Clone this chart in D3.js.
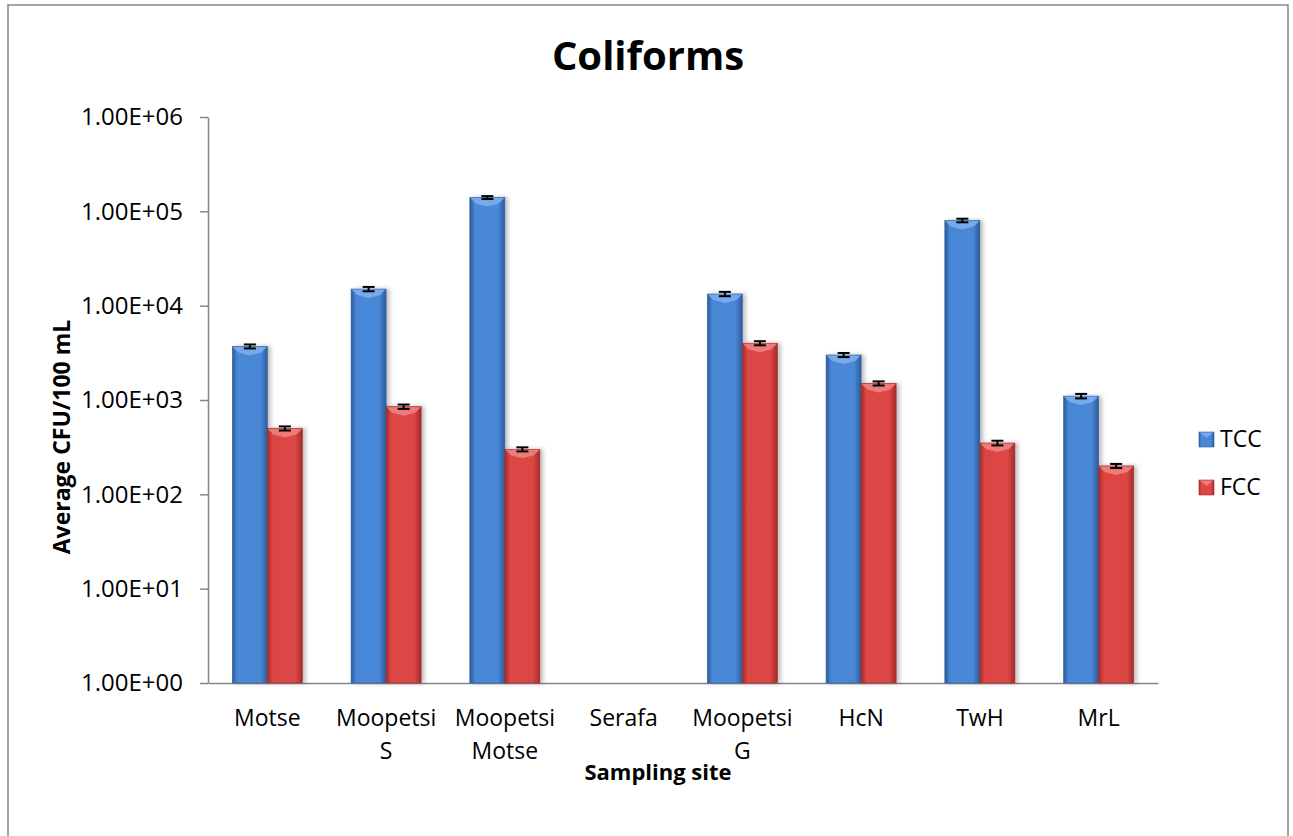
<!DOCTYPE html>
<html>
<head>
<meta charset="utf-8">
<script src="https://cdn.jsdelivr.net/npm/d3@7"></script>
<style>
  body { margin: 0; background: #fff; }
  svg { display: block; font-family: "Open Sans", sans-serif; }
  .axis path, .axis line { stroke: #868686; stroke-width: 1.5; }
  .axis text { fill: #000; font-size: 23px; font-family: "Open Sans", sans-serif; }
</style>
</head>
<body>
<svg id="chart" width="1293" height="836"></svg>
<script>
const sites = ["Motse", "Moopetsi S", "Moopetsi Motse", "Serafa", "Moopetsi G", "HcN", "TwH", "MrL"];
const seriesNames = ["TCC", "FCC"];
const tccValues = [3700, 15000, 140000, null, 13300, 3000, 80000, 1100];
const fccValues = [500, 850, 300, null, 4000, 1500, 350, 200];
const tccErrors = [180, 800, 5000, null, 700, 150, 3500, 60];
const fccErrors = [25, 45, 15, null, 200, 75, 20, 10];
const yTicks = [1, 10, 100, 1000, 10000, 100000, 1000000];

const margin = { left: 208, top: 117 };
const width = 1158 - margin.left;
const height = 683 - margin.top;

const colors = {
  TCC: { mid: "#4a88d6", edge: "#2c5b9c", top: "#7fb0ee" },
  FCC: { mid: "#dc4744", edge: "#a32b29", top: "#ef8683" }
};

const sciFormat = d => {
  const e = Math.round(Math.log10(d));
  const m = (d / Math.pow(10, e)).toFixed(2);
  return `${m}E+${String(e).padStart(2, "0")}`;
};

const rows = sites.map((site, i) => ({
  site,
  bars: [
    { key: "TCC", value: tccValues[i], err: tccErrors[i] },
    { key: "FCC", value: fccValues[i], err: fccErrors[i] }
  ]
}));

const svg = d3.select("#chart");
const defs = svg.append("defs");

seriesNames.forEach(name => {
  const grad = defs
    .append("linearGradient")
    .attr("id", `grad-${name}`)
    .attr("x1", "0%")
    .attr("x2", "100%");
  grad.append("stop").attr("offset", "0%").attr("stop-color", colors[name].edge);
  grad.append("stop").attr("offset", "15%").attr("stop-color", colors[name].mid);
  grad.append("stop").attr("offset", "80%").attr("stop-color", colors[name].mid);
  grad.append("stop").attr("offset", "100%").attr("stop-color", colors[name].edge);
});

defs
  .append("filter")
  .attr("id", "shadow")
  .attr("x", "-20%")
  .attr("width", "150%")
  .append("feDropShadow")
  .attr("dx", 3)
  .attr("dy", 0)
  .attr("stdDeviation", 2)
  .attr("flood-color", "#000")
  .attr("flood-opacity", 0.25);

// outer frame
svg
  .append("rect")
  .attr("x", 8)
  .attr("y", 5)
  .attr("width", 1280)
  .attr("height", 860)
  .attr("fill", "none")
  .attr("stroke", "#868686")
  .attr("stroke-width", 1.5);

svg
  .append("text")
  .attr("x", 648)
  .attr("y", 70)
  .attr("text-anchor", "middle")
  .attr("font-size", 40)
  .attr("font-weight", "bold")
  .text("Coliforms");

const g = svg.append("g").attr("transform", `translate(${margin.left},${margin.top})`);

const x0 = d3
  .scaleBand()
  .domain(sites)
  .range([0, width])
  .paddingInner(0.41)
  .paddingOuter(0.205);

const x1 = d3.scaleBand().domain(seriesNames).range([0, x0.bandwidth()]);

const y = d3.scaleLog().domain([1, 1e6]).range([height, 0]);

g.append("g")
  .attr("class", "axis y-axis")
  .call(d3.axisLeft(y).tickValues(yTicks).tickFormat(sciFormat).tickSize(8).tickSizeOuter(0).tickPadding(17))
  .selectAll("text")
  .style("font-size", "24px");

const xAxis = g
  .append("g")
  .attr("class", "axis x-axis")
  .attr("transform", `translate(0,${height})`)
  .call(d3.axisBottom(x0).tickSize(0).tickSizeOuter(0));

xAxis.selectAll(".tick text").each(function (d) {
  const t = d3.select(this).text(null).attr("y", null).attr("dy", null);
  d.split(" ").forEach((word, i) => {
    t.append("tspan")
      .attr("x", 0)
      .attr("y", 43 + i * 33)
      .text(word);
  });
});

const groups = g
  .selectAll(".site")
  .data(rows)
  .enter()
  .append("g")
  .attr("class", "site")
  .attr("transform", d => `translate(${x0(d.site)},0)`);

const bars = groups
  .selectAll(".bar")
  .data(d => d.bars.filter(b => b.value != null))
  .enter()
  .append("g")
  .attr("class", "bar");

bars
  .append("rect")
  .attr("x", d => x1(d.key))
  .attr("y", d => y(d.value))
  .attr("width", x1.bandwidth())
  .attr("height", d => height - y(d.value))
  .attr("fill", d => `url(#grad-${d.key})`)
  .attr("stroke", d => colors[d.key].edge)
  .attr("stroke-width", 0.6)
  .attr("filter", "url(#shadow)");

// bevel on the top of each bar
bars
  .append("path")
  .attr("d", d => {
    const bx = x1(d.key);
    const by = y(d.value);
    const w = x1.bandwidth();
    return `M${bx + 0.5},${by + 0.5} L${bx + w - 0.5},${by + 0.5} L${bx + w - 6},${by + 6} L${bx + w / 2},${by + 9} L${bx + 6},${by + 6} Z`;
  })
  .attr("fill", d => colors[d.key].top)
  .attr("opacity", 0.85);

const errBars = bars.append("g").attr("stroke", "#000").attr("stroke-width", 2);

errBars
  .append("line")
  .attr("x1", d => x1(d.key) + x1.bandwidth() / 2)
  .attr("x2", d => x1(d.key) + x1.bandwidth() / 2)
  .attr("y1", d => y(d.value + d.err))
  .attr("y2", d => y(d.value - d.err));

[1, -1].forEach(sign => {
  errBars
    .append("line")
    .attr("x1", d => x1(d.key) + x1.bandwidth() / 2 - 6)
    .attr("x2", d => x1(d.key) + x1.bandwidth() / 2 + 6)
    .attr("y1", d => y(d.value + sign * d.err))
    .attr("y2", d => y(d.value + sign * d.err));
});

svg
  .append("text")
  .attr("transform", "rotate(-90)")
  .attr("x", -437)
  .attr("y", 70)
  .attr("text-anchor", "middle")
  .attr("font-size", 23)
  .attr("font-weight", "bold")
  .text("Average CFU/100 mL");

svg
  .append("text")
  .attr("x", 658)
  .attr("y", 780)
  .attr("text-anchor", "middle")
  .attr("font-size", 22)
  .attr("font-weight", "bold")
  .text("Sampling site");

const legend = svg
  .selectAll(".legend")
  .data(seriesNames)
  .enter()
  .append("g")
  .attr("class", "legend")
  .attr("transform", (d, i) => `translate(1199,${432 + i * 48})`);

legend
  .append("rect")
  .attr("width", 15)
  .attr("height", 15)
  .attr("fill", d => `url(#grad-${d})`)
  .attr("stroke", d => colors[d].edge)
  .attr("stroke-width", 0.6);

legend
  .append("path")
  .attr("d", "M0.5,0.5 L14.5,0.5 L7.5,6 Z")
  .attr("fill", d => colors[d].top)
  .attr("opacity", 0.85);

legend
  .append("text")
  .attr("x", 21)
  .attr("y", 15)
  .attr("font-size", 23)
  .text(d => d);
</script>
</body>
</html>
